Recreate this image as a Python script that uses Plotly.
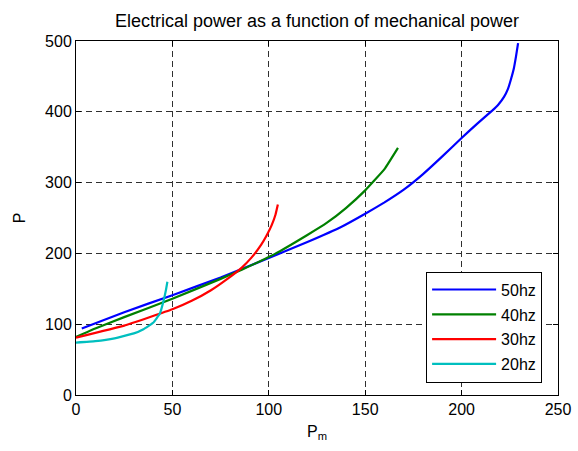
import plotly.graph_objects as go

# 50 Hz
pm_50 = [3, 25, 50, 75, 100, 120, 138, 150, 160, 170, 180, 190, 200, 208, 216, 219, 222, 224, 225.5, 227, 228.2, 229.3]
p_50 = [94, 117, 141, 166, 193.5, 216, 238, 256, 272, 290, 312, 337, 363, 383, 402, 410, 421, 432, 445, 460, 478, 497]
# 40 Hz
pm_40 = [0, 10, 25, 50, 75, 86, 103, 120, 130, 140, 150, 160, 167]
p_40 = [82, 94, 110, 136, 164, 177, 199, 226, 243, 264, 289, 319, 349]
# 30 Hz
pm_30 = [0, 25, 50, 60, 70, 78, 86, 91, 96, 99, 101.5, 103.5, 104.7]
p_30 = [81, 98, 121, 133, 148, 163, 180, 194, 212, 226, 240, 255, 269]
# 20 Hz
pm_20 = [0, 10, 20, 30, 35, 40, 43.5, 45.5, 46.7, 47.4]
p_20 = [74, 76, 80, 87, 93, 102, 115, 134, 149, 160]

x_ticks = [0, 50, 100, 150, 200, 250]
y_ticks = [0, 100, 200, 300, 400, 500]

series = [
    ("50hz", pm_50, p_50, "#0000ff"),
    ("40hz", pm_40, p_40, "#008000"),
    ("30hz", pm_30, p_30, "#ff0000"),
    ("20hz", pm_20, p_20, "#00bfbf"),
]

fig = go.Figure()
for name, xs, ys, col in series:
    fig.add_trace(go.Scatter(x=xs, y=ys, mode="lines", name=name, legendgroup=name,
                             line=dict(color=col, width=2.2, shape="spline", smoothing=0.3)))

FAM = "Liberation Sans, Arial, sans-serif"
font = dict(family=FAM, size=16, color="black")
axis_common = dict(showline=True, linecolor="black", linewidth=1, mirror="ticks",
                   ticks="inside", ticklen=5, tickcolor="black",
                   showgrid=True, gridcolor="#303030", griddash="6px,4px", gridwidth=1,
                   zeroline=False, tickfont=font, automargin=False)

fig.update_layout(
    width=578, height=451,
    margin=dict(l=76, r=20, t=41, b=55.5),
    paper_bgcolor="white", plot_bgcolor="white",
    font=font,
    title=dict(text="Electrical power as a function of mechanical power",
               xref="paper", x=0.5, xanchor="center", y=0.955, yanchor="middle",
               font=dict(family=FAM, size=18, color="black")),
    xaxis=dict(range=[0, 250], tickvals=x_ticks, **axis_common,
               title=dict(text="P<sub>m</sub>", font=font, standoff=8)),
    yaxis=dict(range=[0, 500], tickvals=y_ticks, **axis_common,
               title=dict(text="P", font=font, standoff=15)),
    legend=dict(x=0.967, y=0.035, xanchor="right", yanchor="bottom",
                bgcolor="white", bordercolor="black", borderwidth=1,
                font=font, tracegroupgap=1, itemwidth=64),
    showlegend=True,
)

fig.write_html("out.html", config={"displayModeBar": False},
               post_script="document.body.style.margin='0';")
